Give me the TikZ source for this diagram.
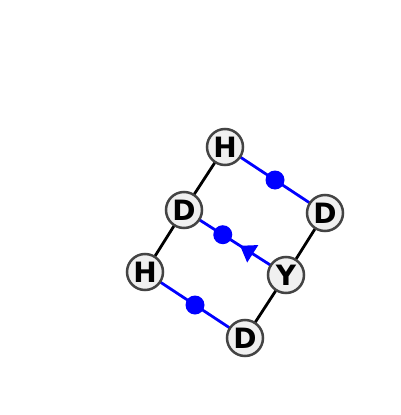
\documentclass[tikz,border=0pt]{standalone}
\usepackage{fontspec}
\setmainfont{DejaVu Sans}
\usepackage{tikz}
\usetikzlibrary{arrows.meta}
\usetikzlibrary{decorations.markings}
\definecolor{atomfill}{HTML}{F0F0F0}
\definecolor{atomedge}{HTML}{444444}

\begin{document}
\begin{tikzpicture}[
    x=1pt, y=-1pt,
    atom/.style={circle, draw=atomedge, line width=2.5pt, fill=atomfill,
        minimum size=36pt, inner sep=0pt, text depth=-4pt,
        font=\fontsize{28}{28}\selectfont\bfseries},
    chain bond/.style={line width=2.8pt, black},
    link bond/.style={line width=2.8pt, blue},
    dot/.style={circle, fill=blue, minimum size=19pt, inner sep=0pt},
    flow mark/.style={postaction={decorate}, decoration={markings,
        mark=at position 0.45 with {\arrow{Triangle[length=15pt, width=20pt]}}}}
    ]
    \useasboundingbox (0,0) rectangle (400,415);

    % atom positions
    \coordinate (H1) at (225,147);
    \coordinate (D1) at (325,213);
    \coordinate (D2) at (184,210);
    \coordinate (Y) at (286,275);
    \coordinate (H2) at (145,272);
    \coordinate (D3) at (245,338);
    % chain bonds
    \draw[chain bond] (H1) -- (D2);
    \draw[chain bond] (D2) -- (H2);
    \draw[chain bond] (D1) -- (Y);
    \draw[chain bond] (Y) -- (D3);
    % links
    \draw[link bond] (H1) -- node[dot]{} (D1);
    \draw[link bond] (H2) -- node[dot]{} (D3);
    \draw[link bond, flow mark] (Y) -- node[dot, pos=0.62]{} (D2);
    % atoms
    \node[atom] (h1) at (H1) {H};
    \node[atom] (d1) at (D1) {D};
    \node[atom] (d2) at (D2) {D};
    \node[atom] (y) at (Y) {Y};
    \node[atom] (h2) at (H2) {H};
    \node[atom] (d3) at (D3) {D};
\end{tikzpicture}
\end{document}
